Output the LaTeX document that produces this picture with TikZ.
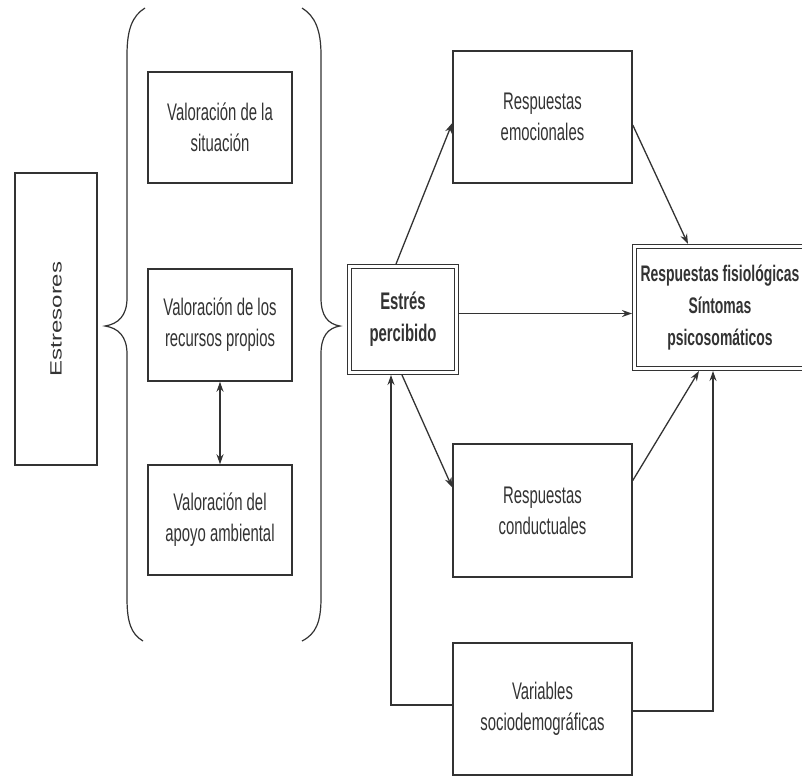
\documentclass[tikz,border=0pt]{standalone}
\usepackage{fontspec}
\usepackage{graphicx}
\setmainfont[FakeStretch=0.62]{Liberation Sans}
\newfontfamily\plainsans{Liberation Sans}
\usetikzlibrary{arrows.meta,calc}
\definecolor{ink}{HTML}{333333}
\begin{document}
\begin{tikzpicture}[x=1pt,y=-1pt,
  box/.style={draw=ink, line width=1.5pt, fill=white, align=center, text=ink,
    inner sep=0pt, font=\fontsize{24}{31}\selectfont},
  dbox/.style={box, line width=1.2pt, double=white, double distance=2.6pt,
    outer sep=2.5pt, font=\fontsize{24}{32}\selectfont\bfseries},
  arr/.style={draw=ink, line width=1.3pt, -{Stealth[length=10pt,width=7pt]}},
  darr/.style={draw=ink, line width=1.3pt, {Stealth[length=10pt,width=7pt]}-{Stealth[length=10pt,width=7pt]}},
  brace/.style={draw=ink, line width=1.2pt}]
\useasboundingbox (0,0) rectangle (802,776);
% Estresores
\node[box, minimum width=82pt, minimum height=292pt] (st) at (56,319)
  {\rotatebox{90}{\scalebox{1}[0.68]{\plainsans\fontsize{24}{28}\selectfont Estresores}}};
% braces
\draw[brace] (145,8) .. controls (132,16) and (127,30) .. (127,55) -- (127,298)
  .. controls (127,316) and (118,324) .. (105,326)
  .. controls (118,328) and (127,336) .. (127,354) -- (127,598)
  .. controls (127,622) and (131,634) .. (143,641);
\draw[brace] (302,8) .. controls (315,16) and (321,30) .. (321,55) -- (321,298)
  .. controls (321,316) and (328,324) .. (340,326)
  .. controls (328,328) and (321,336) .. (321,354) -- (321,598)
  .. controls (321,622) and (316,634) .. (302,641);
% left boxes
\node[box, minimum width=144pt, minimum height=111pt] (a) at (220,127.5)
  {Valoración de la\\situación};
\node[box, minimum width=144pt, minimum height=112pt] (b) at (220,325)
  {Valoración de los\\recursos propios};
\node[box, minimum width=144pt, minimum height=110pt] (c) at (220,520)
  {Valoración del\\apoyo ambiental};
% right side
\node[dbox, minimum width=107pt, minimum height=106pt] (es) at (403,319.5)
  {Estrés\\percibido};
\node[box, minimum width=179pt, minimum height=132pt] (em) at (542.5,117)
  {Respuestas\\emocionales};
\node[box, minimum width=179pt, minimum height=133pt] (co) at (542.5,510.5)
  {Respuestas\\conductuales};
\node[box, minimum width=179pt, minimum height=132pt] (va) at (542.5,709)
  {Variables\\sociodemográficas};
\node[dbox, minimum width=171pt, minimum height=122pt,
  font=\fontsize{22.5}{32}\selectfont\bfseries] (fs) at (720,307.5)
  {Respuestas fisiológicas\\Síntomas\\psicosomáticos};
% connectors
\draw[darr] (b.south) -- (c.north);
\draw[arr] ([xshift=-7pt]es.north) -- ([yshift=-6pt]em.west);
\draw[arr] ([yshift=-8pt]em.east) -- ([xshift=-32pt]fs.north);
\draw[arr] ([yshift=6pt]es.east) -- ([yshift=6pt]es.east -| fs.west);
\draw[arr] ([xshift=-1pt]es.south) -- ([yshift=23pt]co.west);
\draw[arr] ([yshift=30pt]co.east) -- ([xshift=-21pt]fs.south);
\draw[arr] ([yshift=4pt]va.west) -| ([xshift=-12pt]es.south);
\draw[arr] ([yshift=-2pt]va.east) -| ([xshift=-7pt]fs.south);
\end{tikzpicture}
\end{document}
